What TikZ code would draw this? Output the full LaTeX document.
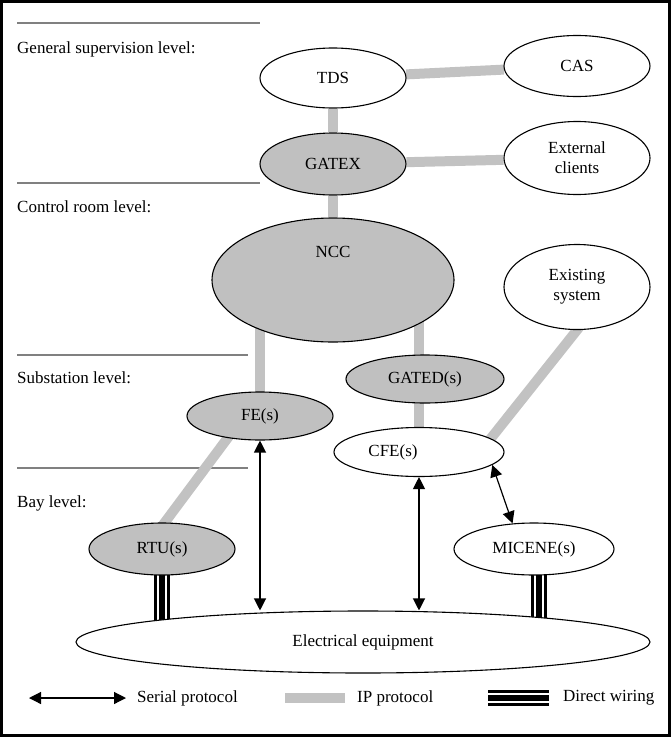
\documentclass[tikz,border=0pt]{standalone}
\usepackage{fontspec}
\setmainfont{Liberation Serif}
\usetikzlibrary{arrows.meta,calc,positioning,shapes.geometric,backgrounds}
\definecolor{UnitGray}{HTML}{C0C0C0}
\definecolor{IPGray}{HTML}{C2C2C2}
\definecolor{RuleGray}{HTML}{808080}
\tikzset{unit/.style={ellipse,draw=black,line width=1.1pt,fill=white,inner sep=0pt,align=center},grayunit/.style={unit,fill=UnitGray},ip/.style={draw=IPGray,line width=10pt},serial/.style={{Triangle[length=12pt,width=12pt]}-{Triangle[length=12pt,width=12pt]},line width=1.2pt},wire/.style={draw=black,line width=16pt,postaction={draw=white,line width=10pt},postaction={draw=black,line width=6.5pt}},levelrule/.style={draw=RuleGray,line width=1.3pt},levellabel/.style={anchor=base west,inner sep=0pt},legend/.style={anchor=west,inner sep=0pt}}
\begin{document}
\begin{tikzpicture}[x=1pt,y=-1pt,font=\fontsize{17}{20}\selectfont]
        \useasboundingbox (0,0) rectangle (671,737);
        \draw[line width=2.5pt] (1.5,1.5) rectangle (669.5,735.5);
        % levels
        \node[levellabel] (lgen) at (17,53) {General supervision level:};
        \node[levellabel] (lctl) at (17,212) {Control room level:};
        \node[levellabel] (lsub) at (17,383) {Substation level:};
        \node[levellabel] (lbay) at (17,507) {Bay level:};
        % units
        \node[unit,minimum width=146,minimum height=60] (TDS) at (333,78) {TDS};
        \node[unit,minimum width=146,minimum height=61] (CAS) at (577,66) {CAS};
        \node[grayunit,minimum width=146,minimum height=62] (GATEX) at (333,164) {GATEX};
        \node[unit,minimum width=146,minimum height=73] (EXT) at (577,158) {External\\clients};
        \node[grayunit,minimum width=242,minimum height=124,label={[anchor=center,yshift=-35pt]north:NCC}] (NCC) at (333,280) {};
        \node[unit,minimum width=146,minimum height=85] (EXIST) at (577,287) {Existing\\system};
        \node[grayunit,minimum width=158,minimum height=48] (GATED) at (425,379) {GATED(s)};
        \node[grayunit,minimum width=146,minimum height=48] (FE) at (260,416) {FE(s)};
        \node[unit,minimum width=170,minimum height=49,label={[xshift=-26pt]center:CFE(s)}] (CFE) at (419,452) {};
        \node[grayunit,minimum width=146,minimum height=52] (RTU) at (162,549) {RTU(s)};
        \node[unit,minimum width=160,minimum height=52] (MICENE) at (534,549) {MICENE(s)};
        \node[unit,minimum width=574,minimum height=62] (EE) at (363,642) {Electrical equipment};
        \coordinate (cfeip) at ($(CFE.center)+(61,0)$);
        \coordinate (feip) at ($(FE.center)+(-16,0)$);
        \coordinate (rtuip) at ($(RTU.center)+(-17,0)$);
        \coordinate (micwire) at ($(MICENE.center)+(5,0)$);
        \begin{scope}[on background layer]
          \draw[levelrule] (17,23) -- (260,23);
          \draw[levelrule] (17,183) -- (260,183);
          \draw[levelrule] (17,355) -- (248,355);
          \draw[levelrule] (17,468) -- (248,468);
          \draw[ip] (TDS) -- (GATEX) -- (NCC);
          \draw[ip] (TDS) -- (CAS);
          \draw[ip] (GATEX) -- (EXT);
          \draw[ip] (FE.center) -- (FE.center |- NCC.center);
          \draw[ip] (CFE.center) -- (CFE.center |- NCC.center);
          \draw[ip] (cfeip) -- ($(cfeip)!1.06!(EXIST.south)$);
          \draw[ip] (feip) -- (rtuip);
          \draw[wire] (RTU.center) -- (RTU.center |- EE.center);
          \draw[wire] (micwire) -- (micwire |- EE.center);
        \end{scope}
        \draw[serial] (FE.south) -- (FE.south |- EE.north);
        \draw[serial] (CFE.south) -- (CFE.south |- EE.north);
        \draw[serial] (CFE.-10) -- (MICENE.130);
        % legend
        \coordinate (serA) at (29,698);
        \coordinate (serB) at (126,698);
        \draw[serial] (serA) -- (serB);
        \node[legend] (sertxt) at (137,698) {Serial protocol};
        \coordinate (ipA) at (285,698);
        \coordinate (ipB) at (345,698);
        \draw[ip] (ipA) -- (ipB);
        \node[legend] (iptxt) at (357,698) {IP protocol};
        \coordinate (wireA) at (488,698);
        \coordinate (wireB) at (549,698);
        \draw[wire] (wireA) -- (wireB);
        \node[legend] (wiretxt) at (563,698) {Direct wiring};
      \end{tikzpicture}
\end{document}
